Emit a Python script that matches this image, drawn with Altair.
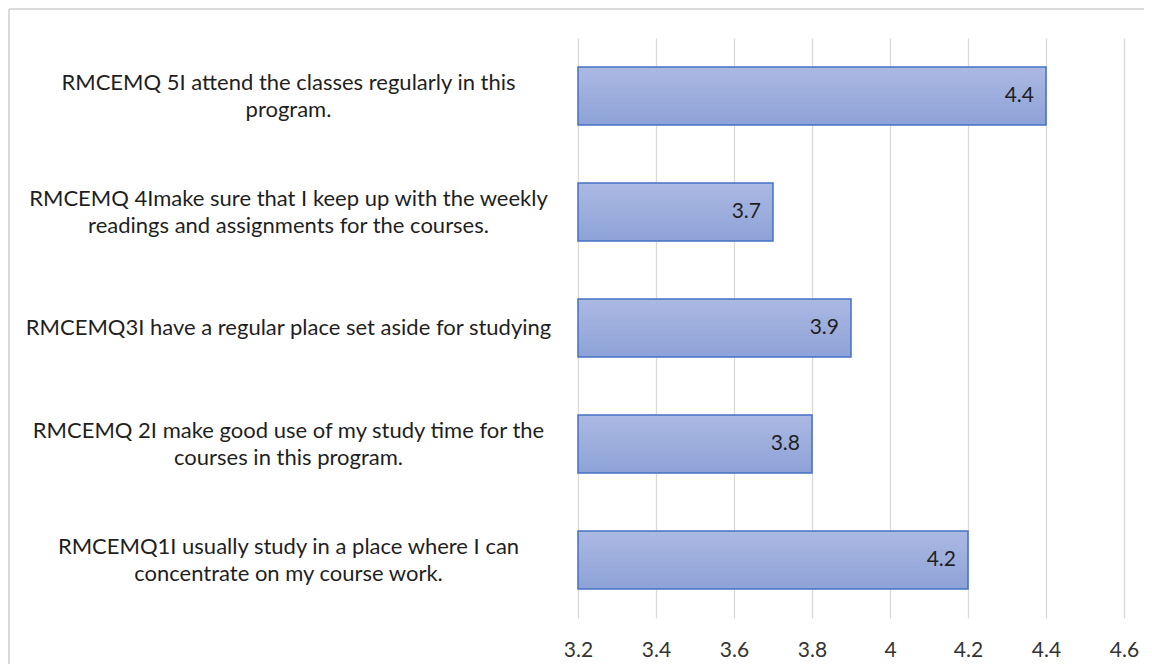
import altair as alt
import pandas as pd

questions = [
    "RMCEMQ 5I attend the classes regularly in this|program.",
    "RMCEMQ 4Imake sure that I keep up with the weekly|readings and assignments for the courses.",
    "RMCEMQ3I have a regular place set aside for studying",
    "RMCEMQ 2I make good use of my study time for the|courses in this program.",
    "RMCEMQ1I usually study in a place where I can|concentrate on my course work.",
]
means = [4.4, 3.7, 3.9, 3.8, 4.2]
value_labels = ["4.4", "3.7", "3.9", "3.8", "4.2"]
x_ticks = [3.2, 3.4, 3.6, 3.8, 4.0, 4.2, 4.4, 4.6]
axis_min = 3.2
axis_max = 4.6

df = pd.DataFrame({"q": questions, "v": means, "lab": value_labels, "base": axis_min})

FONT = "Lato"

y_enc = alt.Y(
    "q:N",
    sort=questions,
    scale=alt.Scale(paddingInner=0.5, paddingOuter=0.25),
    axis=alt.Axis(
        title=None,
        domain=False,
        ticks=False,
        labelExpr="split(datum.label, '|')",
        labelAlign="center",
        labelBaseline="middle",
        labelOffset=alt.condition("indexof(datum.label, '|') >= 0", alt.value(-13), alt.value(0)),
        labelPadding=290,
        labelLimit=0,
        labelFont=FONT,
        labelFontSize=22,
        labelLineHeight=27,
        labelColor="#1F1F1F",
    ),
)

x_scale = alt.Scale(domain=[axis_min, axis_max], zero=False, nice=False)

bars = alt.Chart(df).mark_bar(
    color=alt.Gradient(
        gradient="linear",
        stops=[alt.GradientStop(color="#ACB9E3", offset=0),
               alt.GradientStop(color="#8DA2D7", offset=1)],
        x1=0, x2=0, y1=0, y2=1,
    ),
    stroke="#4472C4",
    strokeWidth=1.5,
).encode(
    x=alt.X(
        "v:Q",
        scale=x_scale,
        axis=alt.Axis(
            title=None,
            values=x_ticks,
            format="~g",
            domain=False,
            ticks=False,
            grid=True,
            gridColor="#D9D9D9",
            gridWidth=1.3,
            labelFlush=False,
            labelFont=FONT,
            labelFontSize=21,
            labelColor="#333333",
            labelPadding=21,
        ),
    ),
    x2="base:Q",
    y=y_enc,
)

texts = alt.Chart(df).mark_text(
    align="right", baseline="middle", dx=-12, font=FONT, fontSize=21, color="#1F1F1F"
).encode(
    x=alt.X("v:Q", scale=x_scale),
    y=alt.Y("q:N", sort=questions),
    text="lab:N",
)

frame_top = alt.Chart(df).mark_rule(color="#D9D9D9", strokeWidth=1.2).encode(
    x=alt.value(-569), x2=alt.value(580), y=alt.value(-29)
)
frame_left = alt.Chart(df).mark_rule(color="#D9D9D9", strokeWidth=1.2).encode(
    x=alt.value(-569), y=alt.value(-29), y2=alt.value(640)
)

chart = alt.layer(bars, texts, frame_top, frame_left).properties(
    width=546,
    height=580,
    autosize=alt.AutoSizeParams(type="none"),
    padding={"left": 570, "top": 30, "right": 20, "bottom": 46},
).configure_view(stroke=None)

chart.save("out.html", embed_options={"renderer": "svg", "actions": False})
